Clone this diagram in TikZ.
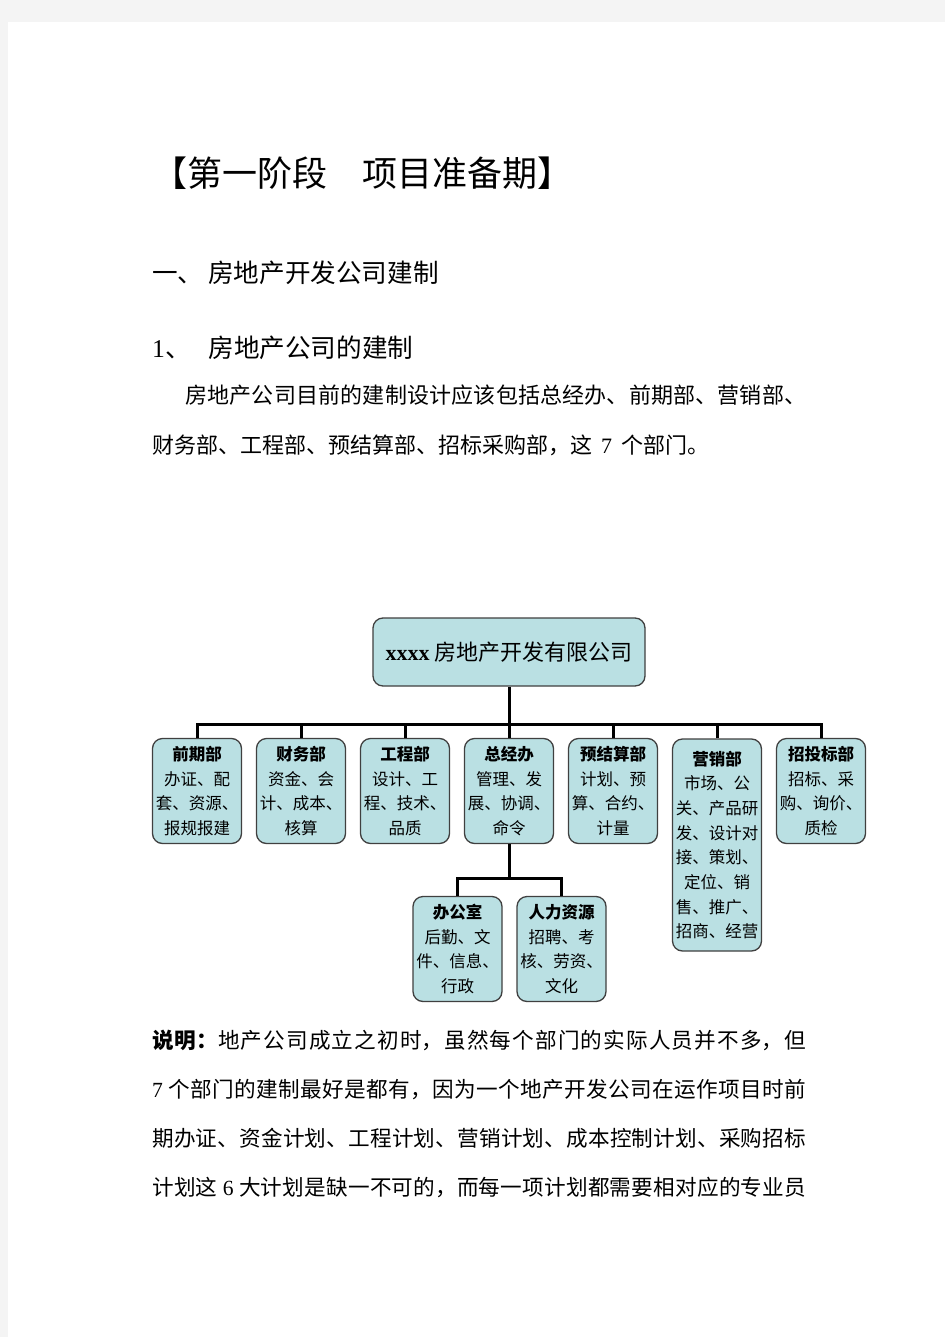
\documentclass[tikz,border=0pt]{standalone}
\usepackage{fontspec}
\setmainfont{Liberation Serif}
\newfontfamily\cjk{Noto Sans CJK SC}
\usepackage{tikz}
\usetikzlibrary{calc}
\definecolor{boxfill}{RGB}{186,224,227}
\definecolor{boxline}{RGB}{64,64,64}
\definecolor{pagegray}{RGB}{244,244,244}

\begin{document}
\begin{tikzpicture}[x=1pt,y=-1pt,
	dept/.style={draw=boxline,line width=1.3pt,fill=boxfill,rounded corners=10pt,minimum width=89pt,minimum height=105pt,text width=89pt,inner sep=0pt,align=center,font=\cjk\fontsize{16.5}{24.7}\selectfont},
	link/.style={line width=3pt},
	line/.style={anchor=west,inner sep=0pt}]
	\useasboundingbox (0,0) rectangle (945,1337);
	\fill[pagegray] (0,0) rectangle (945,1337);
	\fill[white] (8,22) rectangle (945,1337);

	\node [line,font=\cjk\fontsize{35}{35}\selectfont] (title) at (152,173) {【第一阶段　项目准备期】};
	\node [line,font=\cjk\fontsize{25.6}{25.6}\selectfont] (sec) at (152,273) {一、\hspace{5pt}房地产开发公司建制};
	\node [line,font=\cjk\fontsize{25.6}{25.6}\selectfont] (subsec) at (152,348) {{\rmfamily 1}、\hspace{18pt}房地产公司的建制};
	\node [anchor=north west,inner sep=0pt,text width=654pt,align=justify,font=\cjk\fontsize{22}{50}\selectfont] (intro) at (152,385) {\XeTeXlinebreaklocale "zh"\XeTeXlinebreakskip=0pt plus 1pt\hspace*{33pt}房地产公司目前的建制设计应该包括总经办、前期部、营销部、\linebreak 财务部、工程部、预结算部、招标采购部，这\hspace{9pt}{\rmfamily 7}\hspace{9pt}个部门。};

	\draw (509,652) node (company) [draw=boxline,line width=1.3pt,fill=boxfill,rounded corners=10pt,minimum width=272pt,minimum height=68pt,inner sep=0pt,font=\cjk\fontsize{22}{22}\selectfont] {\raisebox{2pt}{{\rmfamily\bfseries xxxx} 房地产开发有限公司}};

	\draw (197,791) node (qianqi) [dept] {{\bfseries 前期部}\\办证、配\\套、资源、\\报规报建};
	\draw (301,791) node (caiwu) [dept] {{\bfseries 财务部}\\资金、会\\计、成本、\\核算};
	\draw (405,791) node (gongcheng) [dept] {{\bfseries 工程部}\\设计、工\\程、技术、\\品质};
	\draw (509,791) node (zongjing) [dept] {{\bfseries 总经办}\\管理、发\\展、协调、\\命令};
	\draw (613,791) node (yujiesuan) [dept] {{\bfseries 预结算部}\\计划、预\\算、合约、\\计量};
	\draw (717,845) node (yingxiao) [dept,minimum height=212pt] {{\bfseries 营销部}\\市场、公\\关、产品研\\发、设计对\\接、策划、\\定位、销\\售、推广、\\招商、经营};
	\draw (821,791) node (zhaotoubiao) [dept] {{\bfseries 招投标部}\\招标、采\\购、询价、\\质检};
	\draw (457.5,949) node (bangong) [dept] {{\bfseries 办公室}\\后勤、文\\件、信息、\\行政};
	\draw (561.5,949) node (renli) [dept] {{\bfseries 人力资源}\\招聘、考\\核、劳资、\\文化};

	\coordinate (bus) at (509,724);
	\coordinate (subbus) at (509,878);
	\draw[link] (company.south) -- (bus);
	\draw[link] (qianqi.north) |- (bus) -| (zhaotoubiao.north);
	\foreach \d in {caiwu,gongcheng,zongjing,yujiesuan,yingxiao}
		\draw[link] (\d.north) -- (\d.north |- bus);
	\draw[link] (zongjing.south) -- (subbus);
	\draw[link] (bangong.north) |- (subbus) -| (renli.north);

	\node [anchor=north west,inner sep=0pt,text width=654pt,align=justify,font=\cjk\fontsize{21.6}{49}\selectfont] (note) at (152,1030) {\XeTeXlinebreaklocale "zh"\XeTeXlinebreakskip=0pt plus 1pt{\bfseries 说明：}地产公司成立之初时，虽然每个部门的实际人员并不多，但\linebreak {\rmfamily 7} 个部门的建制最好是都有，因为一个地产开发公司在运作项目时前\linebreak 期办证、资金计划、工程计划、营销计划、成本控制计划、采购招标\linebreak 计划这 {\rmfamily 6} 大计划是缺一不可的，而每一项计划都需要相对应的专业员\linebreak};
\end{tikzpicture}
\end{document}
